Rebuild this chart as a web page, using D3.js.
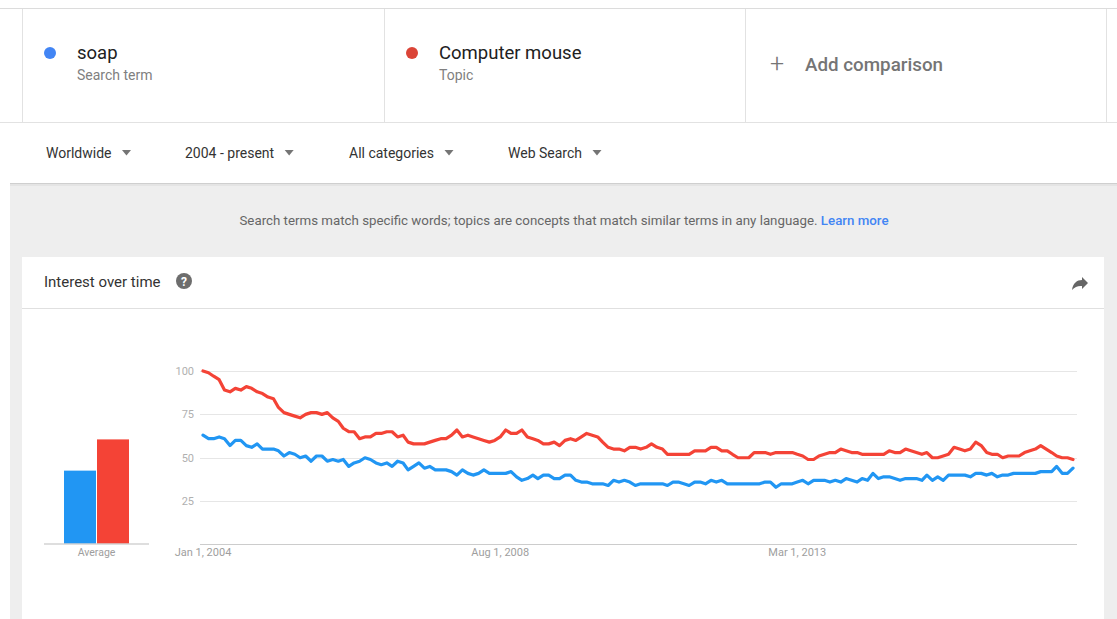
<!DOCTYPE html>
<html>
<head>
<meta charset="utf-8">
<script src="https://cdn.jsdelivr.net/npm/d3@7"></script>
<style>
  html, body { margin: 0; padding: 0; background: #fff; }
  svg { display: block; font-family: Roboto, "Noto Sans", Arial, sans-serif; }
</style>
</head>
<body>
<svg id="chart" width="1117" height="619"></svg>
<script>
// ---------- DATA ----------
const seriesNames = ["soap", "Computer mouse"];
const seriesKinds = ["Search term", "Topic"];
const startMonth = new Date(2004, 0, 1);
const soap = [63,61,61,62,61,57,60,60,57,56,58,55,55,55,54,51,53,52,50,51,48,51,51,48,49,48,49,45,47,48,
  50,49,47,46,47,45,48,47,43,45,47,44,45,43,43,43,42,40,43,41,40,41,43,41,41,41,41,42,39,37,
  38,40,38,40,40,38,38,40,40,37,36,36,35,35,35,34,37,36,37,36,34,35,35,35,35,35,34,36,36,35,
  34,36,36,35,37,36,37,35,35,35,35,35,35,35,36,36,33,35,35,35,36,37,35,37,37,37,36,37,36,38,
  37,36,38,37,41,38,39,39,38,37,38,38,38,37,40,37,39,37,40,40,40,40,39,41,41,40,41,39,40,40,
  41,41,41,41,41,42,42,42,45,41,41,44];
const mouse = [100,99,97,95,89,88,90,89,91,90,88,87,85,84,79,76,75,74,73,75,76,76,75,76,73,71,67,65,65,61,
  62,62,64,64,65,65,62,63,59,58,58,58,59,60,61,61,63,66,62,63,62,61,60,59,60,62,66,64,64,66,
  62,61,60,58,58,59,57,60,61,60,62,64,63,62,59,56,55,55,54,56,56,55,56,58,56,55,52,52,52,52,
  52,54,54,54,56,56,54,54,52,50,50,50,53,53,53,52,53,53,53,53,52,51,49,49,51,52,53,53,55,54,
  53,53,52,52,52,52,52,54,53,53,55,54,53,52,53,50,50,51,52,56,55,54,55,59,57,53,52,52,50,51,
  51,51,53,54,55,57,55,53,51,50,50,49];
const averages = [42, 60];
const yTicks = [25, 50, 75, 100];
const xTickDates = [new Date(2004, 0, 1), new Date(2008, 7, 1), new Date(2013, 2, 1)];
const xTickLabels = ["Jan 1, 2004", "Aug 1, 2008", "Mar 1, 2013"];
const filters = ["Worldwide", "2004 - present", "All categories", "Web Search"];

// ---------- STYLE ----------
const dotColors = ["#4285f4", "#db4437"];
const lineColors = ["#2196f3", "#f44336"];

const svg = d3.select("#chart");
const W = 1117, H = 619;

svg.append("rect").attr("width", W).attr("height", H).attr("fill", "#fff");

// ---- top cards ----
svg.append("line").attr("x1", 0).attr("x2", W).attr("y1", 8.5).attr("y2", 8.5).attr("stroke", "#dcdcdc");
svg.append("line").attr("x1", 0).attr("x2", W).attr("y1", 122.5).attr("y2", 122.5).attr("stroke", "#e2e2e2");
[22, 384, 745, 1106].forEach(x => {
  svg.append("line").attr("x1", x + 0.5).attr("x2", x + 0.5).attr("y1", 9).attr("y2", 122).attr("stroke", "#e2e2e2");
});
const cardX = [22, 384];
seriesNames.forEach((name, i) => {
  const x0 = cardX[i];
  svg.append("circle").attr("cx", x0 + 28).attr("cy", 53).attr("r", 6).attr("fill", dotColors[i]);
  svg.append("text").attr("x", x0 + 55).attr("y", 59).attr("font-size", 18.5).attr("fill", "#212121").text(name);
  svg.append("text").attr("x", x0 + 55).attr("y", 80).attr("font-size", 14).attr("fill", "#808080").text(seriesKinds[i]);
});
svg.append("text").attr("x", 770).attr("y", 72).attr("font-size", 25).attr("font-weight", 300).attr("fill", "#757575").text("+");
svg.append("text").attr("x", 805).attr("y", 71).attr("font-size", 18.8).attr("font-weight", 500).attr("fill", "#757575").text("Add comparison");

// ---- filter row ----
const filterX = [46, 185, 349, 508];
filters.forEach((f, i) => {
  const t = svg.append("text").attr("x", filterX[i]).attr("y", 158).attr("font-size", 14).attr("fill", "#333").text(f);
  const w = t.node().getComputedTextLength();
  const ax = filterX[i] + w + 15;
  svg.append("path").attr("d", `M${ax - 4.5},${150} L${ax + 4.5},${150} L${ax},${155.5} Z`).attr("fill", "#757575");
});

// ---- gray area ----
svg.append("rect").attr("x", 10).attr("y", 183).attr("width", W - 10).attr("height", H - 183).attr("fill", "#eeeeee");
svg.append("line").attr("x1", 10).attr("x2", W).attr("y1", 183.5).attr("y2", 183.5).attr("stroke", "#cfcfcf");
svg.append("rect").attr("x", 10).attr("y", 184).attr("width", W - 10).attr("height", 2).attr("fill", "#e4e4e4");

const note = svg.append("text").attr("x", 564).attr("y", 225).attr("text-anchor", "middle").attr("font-size", 13.3).attr("fill", "#666");
note.append("tspan").text("Search terms match specific words; topics are concepts that match similar terms in any language. ");
note.append("tspan").attr("fill", "#4285f4").attr("font-weight", 500).text("Learn more");

// ---- white chart card ----
svg.append("rect").attr("x", 22).attr("y", 257).attr("width", 1082).attr("height", H - 257).attr("fill", "#fff");
svg.append("line").attr("x1", 22).attr("x2", 1104).attr("y1", 308.5).attr("y2", 308.5).attr("stroke", "#e0e0e0");
svg.append("text").attr("x", 44).attr("y", 287).attr("font-size", 15).attr("fill", "#333").text("Interest over time");
svg.append("circle").attr("cx", 184).attr("cy", 281).attr("r", 8).attr("fill", "#6d6d6d");
svg.append("text").attr("x", 184).attr("y", 285.5).attr("text-anchor", "middle").attr("font-size", 12).attr("font-weight", 700).attr("fill", "#fff").text("?");
svg.append("path").attr("d", "M1072,290 C1073,283 1077,280 1082,280 L1082,277 L1088,283 L1082,289 L1082,286 C1078,285.5 1075,287 1072,290 Z").attr("fill", "#666");

// ---- line chart ----
const dates = d3.timeMonth.range(startMonth, d3.timeMonth.offset(startMonth, soap.length));
const x = d3.scaleTime().domain([dates[0], dates[dates.length - 1]]).range([203, 1073]);
const y = d3.scaleLinear().domain([0, 100]).range([544.5, 371]);

const grid = svg.append("g");
grid.selectAll("line").data(yTicks).join("line")
  .attr("x1", 200).attr("x2", 1077)
  .attr("y1", d => Math.round(y(d)) + 0.5).attr("y2", d => Math.round(y(d)) + 0.5)
  .attr("stroke", "#e6e6e6");
grid.selectAll("text").data(yTicks).join("text")
  .attr("x", 194).attr("y", d => y(d) + 4).attr("text-anchor", "end")
  .attr("font-size", 11).attr("fill", "#b0b0b0").text(d => d);
svg.append("line").attr("x1", 200).attr("x2", 1077).attr("y1", 544.5).attr("y2", 544.5).attr("stroke", "#cccccc");

svg.append("g").selectAll("text").data(xTickDates).join("text")
  .attr("x", d => x(d)).attr("y", 556).attr("text-anchor", "middle")
  .attr("font-size", 11).attr("fill", "#9e9e9e").text((d, i) => xTickLabels[i]);

const line = d3.line().x((d, i) => x(dates[i])).y(d => y(d)).curve(d3.curveLinear);
[soap, mouse].forEach((s, i) => {
  svg.append("path").attr("d", line(s)).attr("fill", "none")
    .attr("stroke", lineColors[i]).attr("stroke-width", 3.2).attr("stroke-linejoin", "round").attr("stroke-linecap", "round");
});

// ---- average bars ----
const xb = d3.scaleBand().domain(seriesNames).range([64, 129]).padding(0);
const yb = d3.scaleLinear().domain([0, 100]).range([543.5, 370]);
svg.append("g").selectAll("rect").data(averages).join("rect")
  .attr("x", (d, i) => xb(seriesNames[i]) + (i === 1 ? 0.5 : 0)).attr("width", xb.bandwidth() - 0.5)
  .attr("y", d => yb(d)).attr("height", d => yb(0) - yb(d))
  .attr("fill", (d, i) => lineColors[i]);
svg.append("line").attr("x1", 44).attr("x2", 149).attr("y1", 544).attr("y2", 544).attr("stroke", "#bdbdbd");
svg.append("text").attr("x", 96.5).attr("y", 556).attr("text-anchor", "middle").attr("font-size", 10.5).attr("fill", "#9e9e9e").text("Average");
</script>
</body>
</html>
